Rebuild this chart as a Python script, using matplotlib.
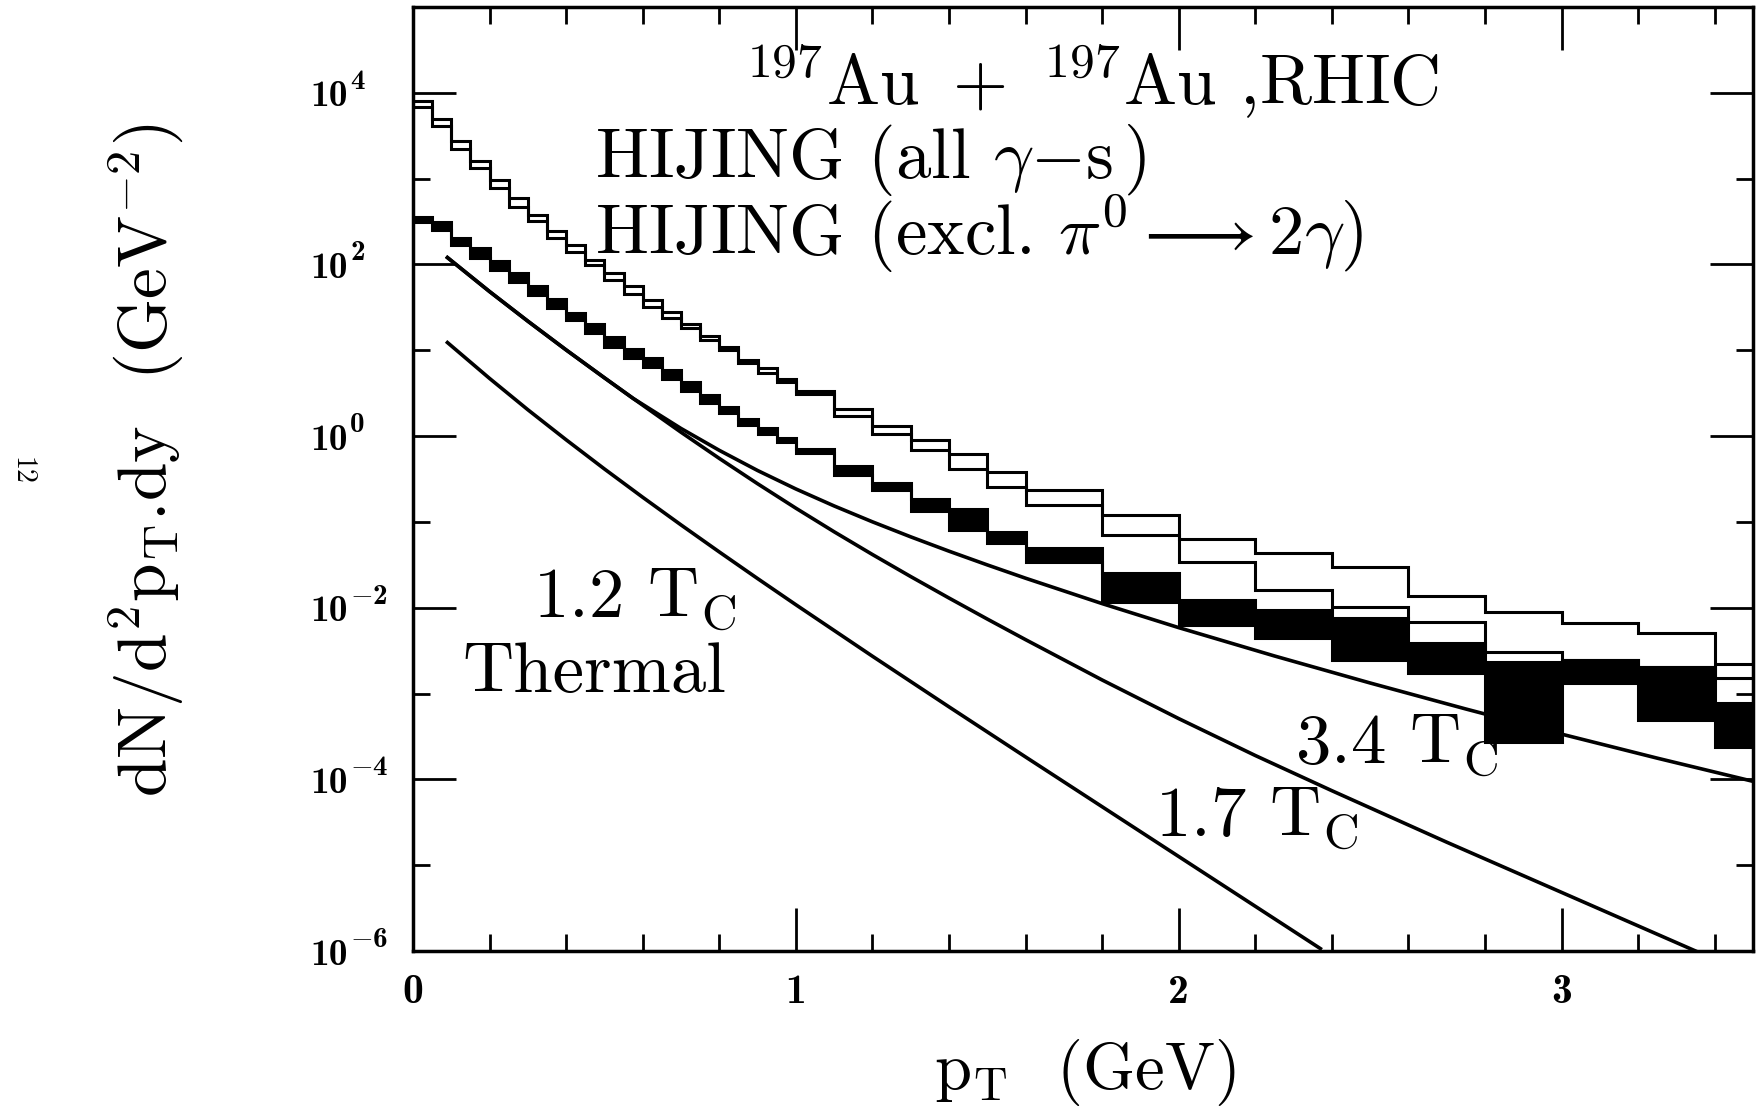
import matplotlib
matplotlib.use("Agg")
import matplotlib.pyplot as plt
import numpy as np
from matplotlib.ticker import NullFormatter
from matplotlib.transforms import offset_copy

plt.rcParams["mathtext.fontset"] = "cm"
plt.rcParams["font.family"] = "serif"
plt.rcParams["font.serif"] = ["cmr10", "DejaVu Serif"]
plt.rcParams["axes.formatter.use_mathtext"] = True

# ---------------------------------------------------------------
# data (y values kept as log10)
# ---------------------------------------------------------------
edges = [0.0, 0.05, 0.10, 0.15, 0.20, 0.25, 0.30, 0.35, 0.40, 0.45,
         0.50, 0.55, 0.60, 0.65, 0.70, 0.75, 0.80, 0.85, 0.90, 0.95,
         1.0, 1.1, 1.2, 1.3, 1.4, 1.5, 1.6, 1.8, 2.0, 2.2, 2.4, 2.6,
         2.8, 3.0, 3.2, 3.4, 3.6]

# HIJING (all gamma-s): upper and lower line of the band
all_hi = [3.90, 3.70, 3.44, 3.21, 2.98, 2.78, 2.58, 2.39, 2.23, 2.05,
          1.90, 1.75, 1.585, 1.45, 1.31, 1.17, 1.04, 0.89, 0.79, 0.67,
          0.53, 0.32, 0.12, -0.05, -0.21, -0.415, -0.63, -0.925, -1.20,
          -1.367, -1.522, -1.86, -2.047, -2.183, -2.30, -2.657]
all_lo = [3.83, 3.61, 3.35, 3.12, 2.89, 2.67, 2.51, 2.31, 2.15, 1.99,
          1.82, 1.66, 1.51, 1.38, 1.26, 1.12, 1.00, 0.85, 0.74, 0.63,
          0.49, 0.23, 0.03, -0.16, -0.38, -0.59, -0.80, -1.154, -1.464,
          -1.795, -1.988, -2.163, -2.513, -2.611, -2.689, -2.824]

# HIJING (excl. pi0 -> 2 gamma): filled band
excl_hi = [2.55, 2.50, 2.31, 2.19, 2.04, 1.90, 1.75, 1.60, 1.44, 1.31,
           1.16, 1.01, 0.91, 0.77, 0.63, 0.48, 0.34, 0.20, 0.09, -0.02,
           -0.155, -0.345, -0.552, -0.738, -0.85, -1.115, -1.30, -1.60,
           -1.911, -2.028, -2.125, -2.416, -2.63, -2.611, -2.689, -3.115]
excl_lo = [2.49, 2.40, 2.23, 2.08, 1.935, 1.79, 1.645, 1.49, 1.35, 1.20,
           1.04, 0.91, 0.80, 0.67, 0.52, 0.38, 0.265, 0.13, 0.03, -0.065,
           -0.20, -0.454, -0.629, -0.87, -1.095, -1.25, -1.47, -1.93,
           -2.203, -2.358, -2.611, -2.766, -3.562, -2.882, -3.31, -3.62]

# thermal curves (pT in GeV, log10 of yield)
pt_12 = [0.09, 0.2, 0.3, 0.4, 0.5, 0.6, 0.7, 0.8, 0.9, 1.0, 1.2, 1.4,
         1.6, 1.8, 2.0, 2.2, 2.37]
log_12 = [1.09, 0.672, 0.307, -0.043, -0.383, -0.713, -1.035, -1.35,
          -1.66, -1.965, -2.565, -3.155, -3.739, -4.319, -4.899, -5.479,
          -5.972]

pt_17 = [0.09, 0.2, 0.3, 0.4, 0.5, 0.575, 0.7, 0.8, 0.9, 1.0, 1.1, 1.2,
         1.3, 1.4, 1.5, 1.6, 1.8, 2.0, 2.2, 2.4, 2.7, 3.0, 3.35]
log_17 = [2.08, 1.684, 1.339, 1.004, 0.679, 0.439, 0.045, -0.26, -0.555,
          -0.84, -1.115, -1.38, -1.637, -1.887, -2.132, -2.372, -2.842,
          -3.292, -3.722, -4.132, -4.732, -5.317, -6.0]

pt_34 = [0.09, 0.2, 0.3, 0.4, 0.5, 0.575, 0.7, 0.8, 0.9, 1.0, 1.1, 1.2,
         1.3, 1.4, 1.5, 1.6, 1.8, 2.0, 2.25, 2.5, 2.75, 3.0, 3.25, 3.5]
log_34 = [2.08, 1.684, 1.339, 1.004, 0.679, 0.439, 0.089, -0.166, -0.401,
          -0.616, -0.814, -0.999, -1.174, -1.341, -1.501, -1.656, -1.952,
          -2.232, -2.562, -2.877, -3.18, -3.473, -3.753, -4.023]

ytick_pow = [-6, -4, -2, 0, 2, 4]
yminor_pow = [-5, -3, -1, 1, 3]
xticks = [0, 1, 2, 3]
xminor = [0.2, 0.4, 0.6, 0.8, 1.2, 1.4, 1.6, 1.8, 2.2, 2.4, 2.6, 2.8,
          3.2, 3.4]

LW = 2.2

fig = plt.figure(figsize=(17.59, 11.17), dpi=100)
ax = fig.add_axes([413 / 1759, 1 - 951 / 1117, 1340 / 1759, 944 / 1117])

# upper histogram: two lines, open band
ax.stairs(10 ** np.array(all_hi), edges, baseline=None, color="k", lw=LW)
ax.stairs(10 ** np.array(all_lo), edges, baseline=None, color="k", lw=LW)

# lower histogram: black band
ax.stairs(10 ** np.array(excl_hi), edges, baseline=10 ** np.array(excl_lo),
          fill=True, color="k", lw=0)
ax.stairs(10 ** np.array(excl_hi), edges, baseline=None, color="k", lw=LW)
ax.stairs(10 ** np.array(excl_lo), edges, baseline=None, color="k", lw=LW)

# thermal curves
for pt, lg in [(pt_12, log_12), (pt_17, log_17), (pt_34, log_34)]:
    ax.plot(pt, 10 ** np.array(lg), color="k", lw=2.6,
            solid_joinstyle="round")

ax.set_yscale("log")
ax.set_xlim(0, 3.5)
ax.set_ylim(1e-6, 1e5)

ax.set_xticks(xticks)
ax.set_xticks(xminor, minor=True)
ax.set_yticks([10.0 ** p for p in ytick_pow])
ax.set_yticks([10.0 ** p for p in yminor_pow], minor=True)
ax.yaxis.set_minor_formatter(NullFormatter())
ax.tick_params(which="both", direction="in", top=True, right=True,
               width=2.0, color="k", labelbottom=False, labelleft=False)
ax.tick_params(which="major", length=31)
ax.tick_params(which="minor", length=12)
for s in ax.spines.values():
    s.set_linewidth(2.5)

# tick labels, drawn by hand (bold, exponent almost full size)
xlab_tr = ax.get_xaxis_transform()
for v in xticks:
    ax.text(v, -0.024, str(v), transform=xlab_tr, fontfamily="cmb10",
            fontsize=30, ha="center", va="top")

ylab_tr = ax.get_yaxis_transform()
base_tr = offset_copy(ylab_tr, fig=fig, x=0, y=-4, units="dots")
exp_tr = offset_copy(ylab_tr, fig=fig, x=0, y=11, units="dots")
for p in ytick_pow:
    ax.text(-0.0485, 10.0 ** p, "10", transform=base_tr,
            fontfamily="cmb10", fontsize=27, ha="right", va="center")
    ex = str(p) if p >= 0 else r"$-$" + str(-p)
    ax.text(-0.047, 10.0 ** p, ex, transform=exp_tr,
            fontfamily="cmb10", fontsize=21, ha="left", va="center")

# annotations
TS = 51
ax.text(0.865, 7.1e3, r"$^{197}$Au $\,$+$\,$ $^{197}$Au ,RHIC",
        fontsize=TS, ha="left", va="baseline")
ax.text(0.475, 1008, r"HIJING (all $\gamma{-}$s$\,$)",
        fontsize=TS, ha="left", va="baseline")
ax.text(0.475, 127.7, r"HIJING (excl. $\pi^{0}\longrightarrow 2\gamma$)",
        fontsize=TS, ha="left", va="baseline")
ax.text(0.313, 7.6e-3, r"1.2 T$_\mathrm{C}$", fontsize=TS,
        ha="left", va="baseline")
ax.text(0.128, 1.05e-3, "Thermal", fontsize=TS, ha="left", va="baseline")
ax.text(2.303, 1.53e-4, r"3.4 T$_\mathrm{C}$", fontsize=TS,
        ha="left", va="baseline")
ax.text(1.937, 2.16e-5, r"1.7 T$_\mathrm{C}$", fontsize=TS,
        ha="left", va="baseline")

# axis titles
fig.text(146 / 1759, 1 - 460 / 1117,
         r"dN/d$^2$p$_\mathrm{T}$.dy  (GeV$^{-2}$)",
         rotation=90, ha="center", va="center", fontsize=50)
fig.text(1085 / 1759, 1 - 1072 / 1117, r"p$_\mathrm{T}$  (GeV)",
         ha="center", va="center", fontsize=48)

# page number on the scan margin
fig.text(22 / 1759, 1 - 471 / 1117, "12", rotation=-90,
         ha="center", va="center", fontsize=20)

fig.savefig("out.png", dpi=100)
